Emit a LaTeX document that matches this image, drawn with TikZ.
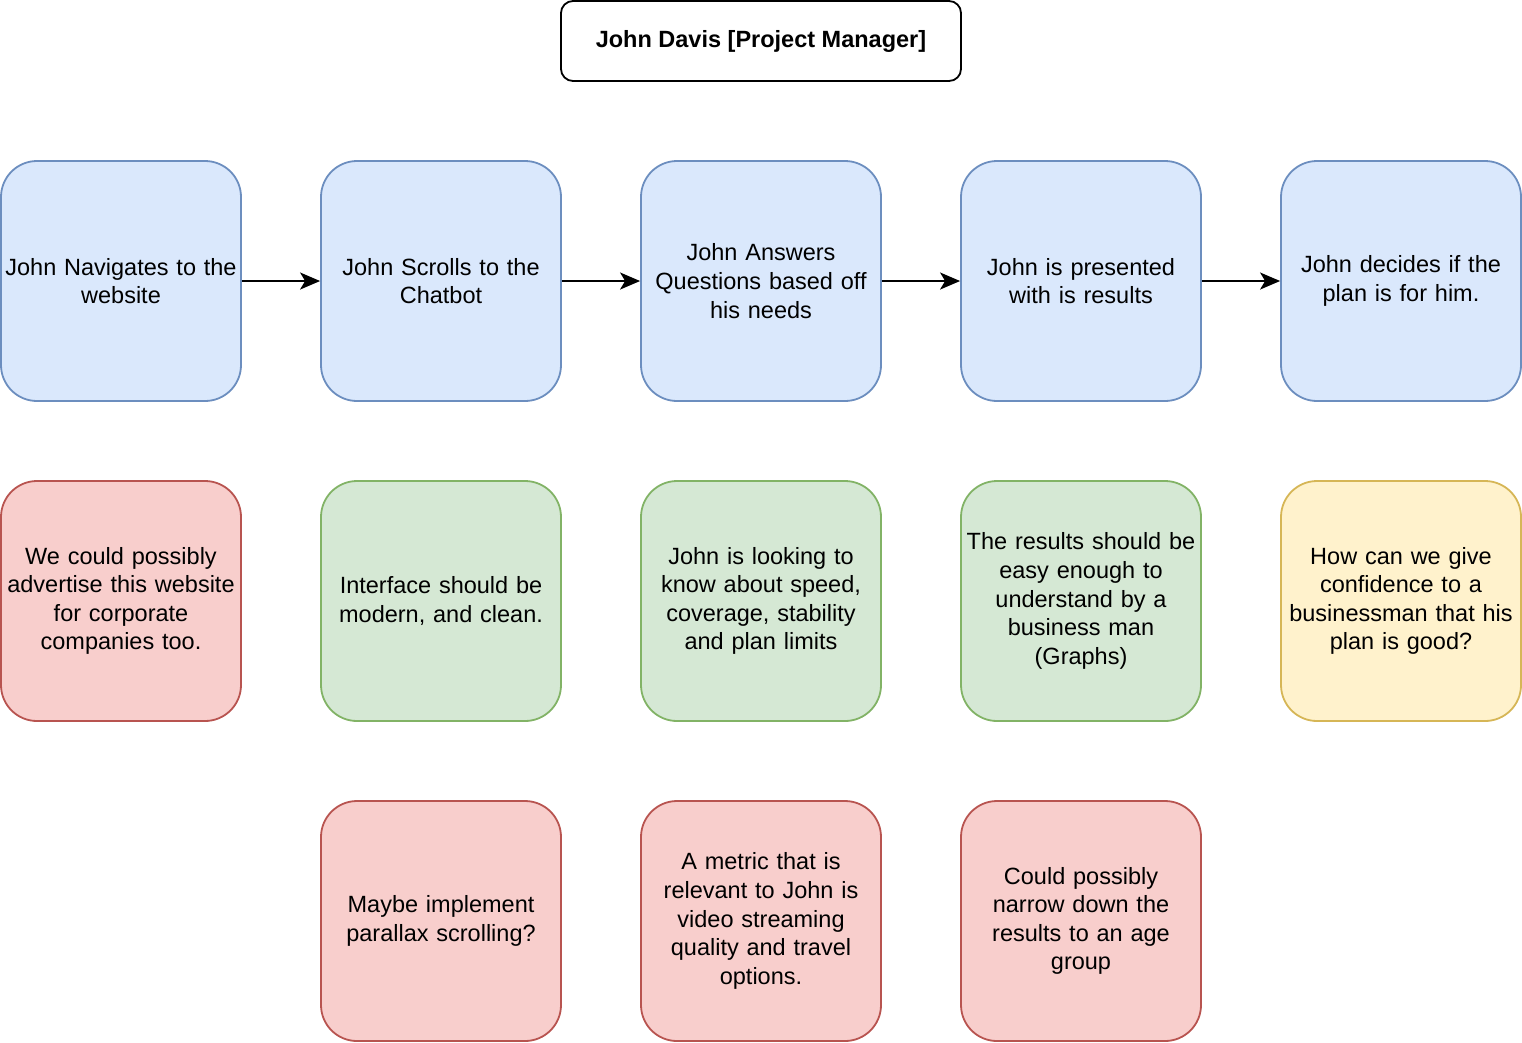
\documentclass[tikz,border=0pt]{standalone}
\usepackage{fontspec}
\setmainfont{Liberation Sans}
\usetikzlibrary{arrows.meta}
\hyphenpenalty=10000
\definecolor{bluefill}{HTML}{DAE8FC}\definecolor{bluedraw}{HTML}{6C8EBF}
\definecolor{redfill}{HTML}{F8CECC}\definecolor{reddraw}{HTML}{B85450}
\definecolor{greenfill}{HTML}{D5E8D4}\definecolor{greendraw}{HTML}{82B366}
\definecolor{yellowfill}{HTML}{FFF2CC}\definecolor{yellowdraw}{HTML}{D6B656}
\begin{document}
\begin{tikzpicture}[x=1pt,y=-1pt,
  card/.style={draw, line width=1.8pt, rounded corners=36pt, minimum width=240pt, minimum height=240pt,
    inner sep=0pt, align=center, text width=240pt, font=\fontsize{23.5}{28.6}\selectfont},
  bluecard/.style={card, fill=bluefill, draw=bluedraw},
  redcard/.style={card, fill=redfill, draw=reddraw},
  greencard/.style={card, fill=greenfill, draw=greendraw},
  yellowcard/.style={card, fill=yellowfill, draw=yellowdraw},
  flow/.style={line width=1.8pt, -{Stealth[length=20pt,width=17pt,inset=5pt]}}]
\useasboundingbox (0,0) rectangle (1522,1042);
\node[draw, line width=1.8pt, rounded corners=12pt, minimum width=400pt, minimum height=80pt,
  font=\fontsize{23.5}{28.6}\selectfont\bfseries] (title) at (761,41) {John Davis [Project Manager]};
\node[bluecard] (b1) at (121,281) {John Navigates to the\\website};
\node[bluecard] (b2) at (441,281) {John Scrolls to the\\Chatbot};
\node[bluecard] (b3) at (761,281) {John Answers\\Questions based off\\his needs};
\node[bluecard] (b4) at (1081,281) {John is presented\\with is results};
\node[bluecard] (b5) at (1401,281) {John decides if the\\plan is for him.};
\draw[flow] (b1) -- (b2);
\draw[flow] (b2) -- (b3);
\draw[flow] (b3) -- (b4);
\draw[flow] (b4) -- (b5);
\node[redcard] (r1) at (121,601) {We could possibly\\advertise this website\\for corporate\\companies too.};
\node[greencard] (g2) at (441,601) {Interface should be\\modern, and clean.};
\node[greencard] (g3) at (761,601) {John is looking to\\know about speed,\\coverage, stability\\and plan limits};
\node[greencard] (g4) at (1081,601) {The results should be\\easy enough to\\understand by a\\business man\\(Graphs)};
\node[yellowcard] (y5) at (1401,601) {How can we give\\confidence to a\\businessman that his\\plan is good?};
\node[redcard] (r2) at (441,921) {Maybe implement\\parallax scrolling?};
\node[redcard] (r3) at (761,921) {A metric that is\\relevant to John is\\video streaming\\quality and travel\\options.};
\node[redcard] (r4) at (1081,921) {Could possibly\\narrow down the\\results to an age\\group};
\end{tikzpicture}
\end{document}
